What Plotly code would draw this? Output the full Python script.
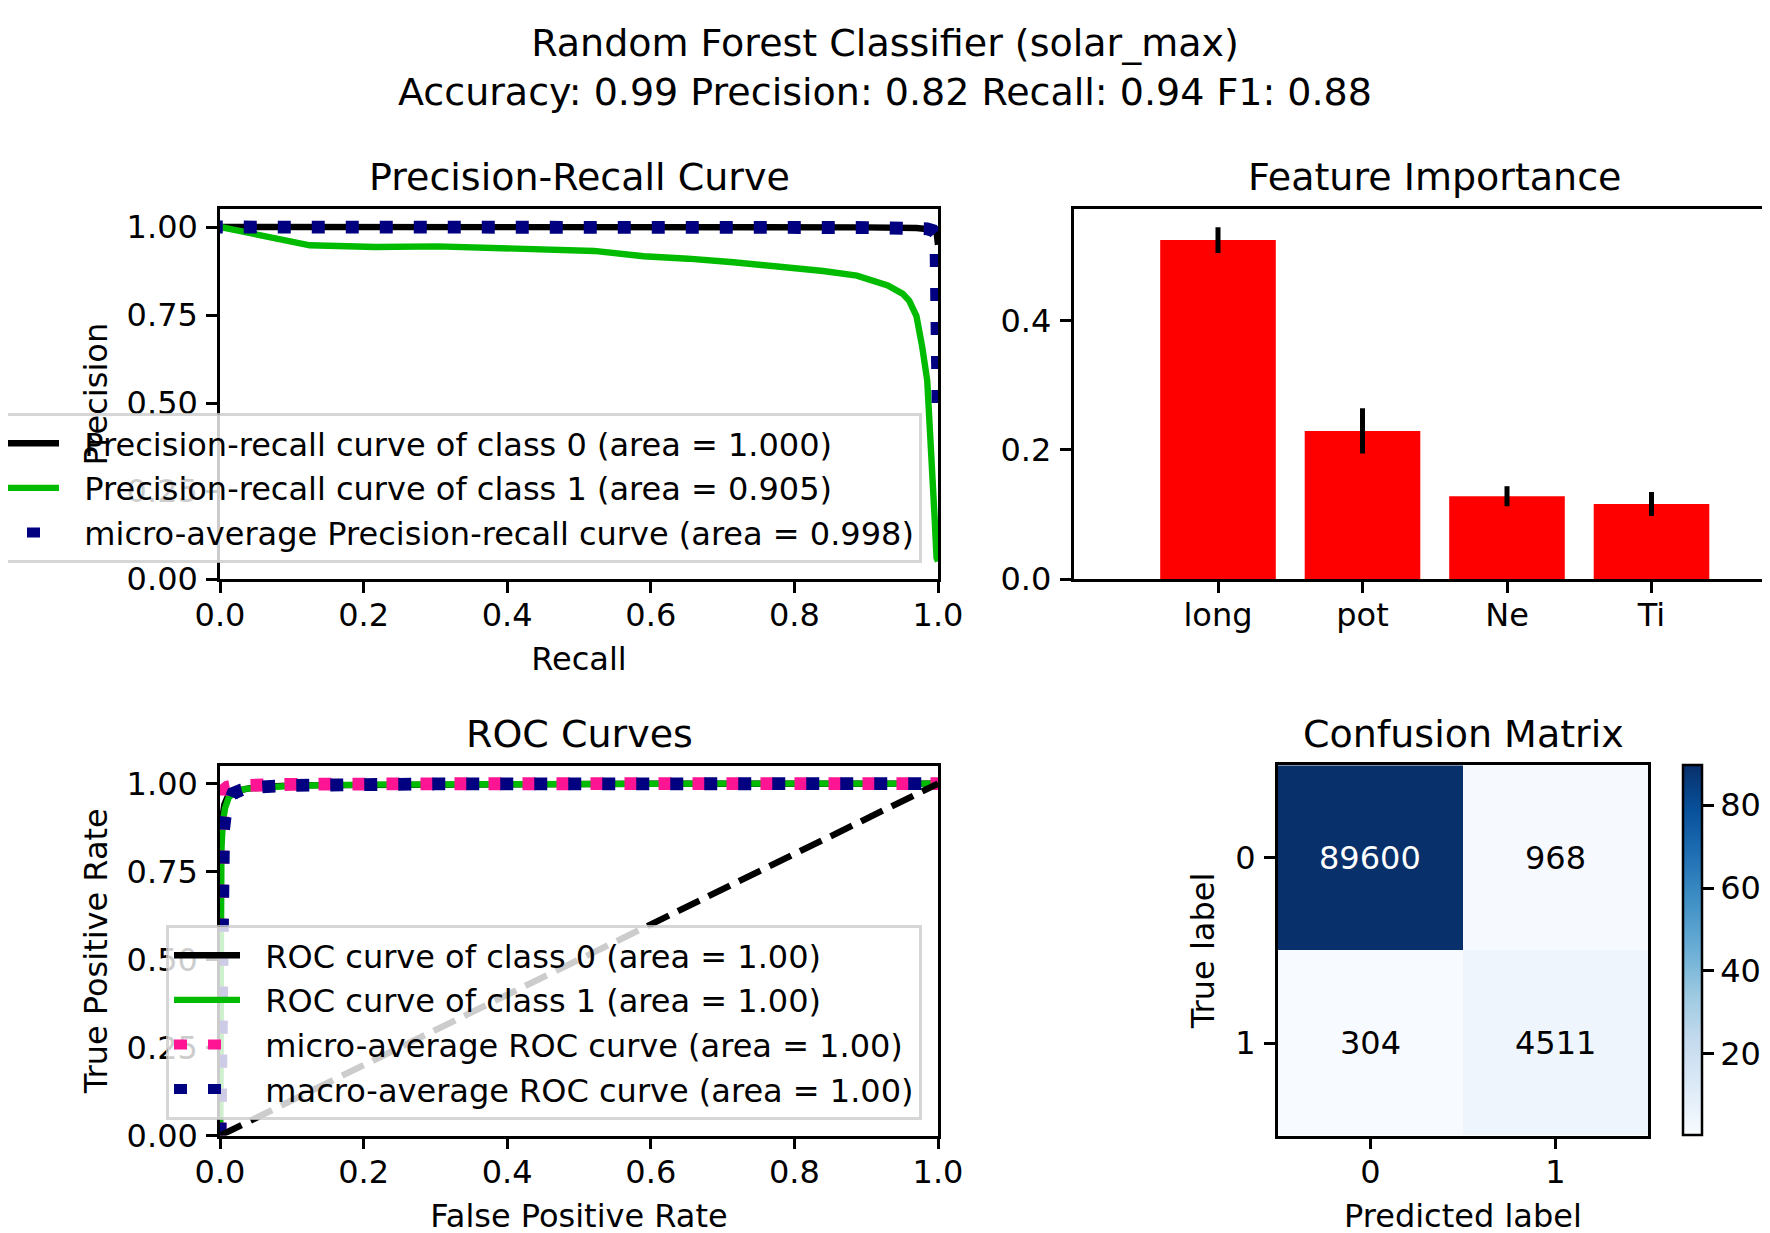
import plotly.graph_objects as go

FONT = "DejaVu Sans"
W, H = 1770, 1233
OFF = 8  # browser default body margin

# ---------------- data ----------------
title_line1 = "Random Forest Classifier (solar_max)"
title_line2 = "Accuracy: 0.99 Precision: 0.82 Recall: 0.94 F1: 0.88"

# Precision-recall curves (recall descending, as returned by sklearn)
pr0_recall = [1.0, 0.998, 0.99, 0.97, 0.9, 0.5, 0.0]
pr0_precision = [0.9495, 0.985, 0.993, 0.997, 0.999, 0.9999, 1.0]
pr0_label = "Precision-recall curve of class 0 (area = 1.000)"

pr1_recall = [1.0, 0.998, 0.995, 0.991, 0.985, 0.978, 0.970, 0.960, 0.951, 0.930, 0.904, 0.887,
              0.840, 0.780, 0.715, 0.652, 0.590, 0.521, 0.434, 0.303, 0.216, 0.125, 0.0]
pr1_precision = [0.0505, 0.06, 0.185, 0.374, 0.564, 0.66, 0.747, 0.79, 0.81, 0.834, 0.853, 0.862,
                 0.875, 0.888, 0.900, 0.910, 0.917, 0.932, 0.938, 0.945, 0.943, 0.948, 1.0]
pr1_label = "Precision-recall curve of class 1 (area = 0.905)"

prm_recall = [1.0, 1.0, 0.999, 0.997, 0.993, 0.985, 0.9, 0.5, 0.0]
prm_precision = [0.5, 0.8, 0.95, 0.98, 0.99, 0.995, 0.9985, 0.9995, 1.0]
prm_label = "micro-average Precision-recall curve (area = 0.998)"

# ROC curves
roc0_fpr = [0, 0.0003, 0.001, 0.003, 0.006, 0.01, 0.02, 0.03, 0.05, 0.1, 0.3, 0.6, 1.0]
roc0_tpr = [0, 0.6, 0.8, 0.9, 0.94, 0.96, 0.975, 0.982, 0.99, 0.995, 0.998, 0.9995, 1.0]
roc0_label = "ROC curve of class 0 (area = 1.00)"

roc1_fpr = [0, 0.0005, 0.001, 0.002, 0.004, 0.007, 0.012, 0.02, 0.035, 0.06, 0.1, 0.2, 0.4, 0.7, 1.0]
roc1_tpr = [0, 0.55, 0.72, 0.82, 0.89, 0.93, 0.96, 0.975, 0.985, 0.99, 0.994, 0.997, 0.999, 1.0, 1.0]
roc1_label = "ROC curve of class 1 (area = 1.00)"

rocmi_fpr = [0, 0.0005, 0.001, 0.002, 0.004, 0.007, 0.01, 0.02, 0.05, 0.1, 0.3, 1.0]
rocmi_tpr = [0, 0.9, 0.95, 0.97, 0.98, 0.985, 0.99, 0.994, 0.997, 0.998, 0.9995, 1.0]
rocmi_label = "micro-average ROC curve (area = 1.00)"

rocma_fpr = [0, 0.001, 0.002, 0.003, 0.005, 0.008, 0.012, 0.018, 0.03, 0.05, 0.1, 0.3, 1.0]
rocma_tpr = [0, 0.3, 0.6, 0.8, 0.87, 0.92, 0.95, 0.972, 0.982, 0.99, 0.995, 0.999, 1.0]
rocma_label = "macro-average ROC curve (area = 1.00)"

chance_x = [0, 1]
chance_y = [0, 1]

# Feature importance
features = ["long", "pot", "Ne", "Ti"]
importances = [0.524, 0.229, 0.128, 0.116]
importance_std = [0.020, 0.035, 0.0155, 0.0185]

# Confusion matrix
cm_labels = ["0", "1"]
cm_values = [[89600, 968], [304, 4511]]
cbar_ticks = [20000, 40000, 60000, 80000]

# ---------------- layout helpers (page pixel -> paper fraction) ----------------
def px_x(p):
    return (p - OFF) / W


def px_y(p):
    return 1 - (p - OFF) / H


BLACK = "black"
GREEN = "rgb(0,187,0)"
NAVY = "#000080"
PINK = "#FF1493"
LW = 6.4
DOT = "13px,21px"
GAP = "\u00a0\u00a0"  # gap between legend handle and label (matplotlib handletextpad)

fig = go.Figure()

# PR curves
fig.add_trace(go.Scatter(x=pr0_recall, y=pr0_precision, mode="lines", name=GAP + pr0_label,
                         line=dict(color=BLACK, width=LW), xaxis="x", yaxis="y", legend="legend"))
fig.add_trace(go.Scatter(x=pr1_recall, y=pr1_precision, mode="lines", name=GAP + pr1_label,
                         line=dict(color=GREEN, width=LW), xaxis="x", yaxis="y", legend="legend"))
fig.add_trace(go.Scatter(x=prm_recall, y=prm_precision, mode="lines", name=GAP + prm_label,
                         line=dict(color=NAVY, width=12.8, dash=DOT), xaxis="x", yaxis="y", legend="legend"))

# Feature importance
fig.add_trace(go.Bar(x=list(range(len(features))), y=importances, width=0.8,
                     marker=dict(color="#FF0000", line=dict(width=0)),
                     error_y=dict(type="data", array=importance_std, color="black", thickness=5, width=0),
                     xaxis="x2", yaxis="y2", showlegend=False))

# ROC curves
fig.add_trace(go.Scatter(x=roc0_fpr, y=roc0_tpr, mode="lines", name=GAP + roc0_label,
                         line=dict(color=BLACK, width=LW), xaxis="x3", yaxis="y3", legend="legend2"))
fig.add_trace(go.Scatter(x=roc1_fpr, y=roc1_tpr, mode="lines", name=GAP + roc1_label,
                         line=dict(color=GREEN, width=LW), xaxis="x3", yaxis="y3", legend="legend2"))
fig.add_trace(go.Scatter(x=rocmi_fpr, y=rocmi_tpr, mode="lines", name=GAP + rocmi_label,
                         line=dict(color=PINK, width=12.8, dash=DOT), xaxis="x3", yaxis="y3", legend="legend2"))
fig.add_trace(go.Scatter(x=rocma_fpr, y=rocma_tpr, mode="lines", name=GAP + rocma_label,
                         line=dict(color=NAVY, width=12.8, dash=DOT), xaxis="x3", yaxis="y3", legend="legend2"))
fig.add_trace(go.Scatter(x=chance_x, y=chance_y, mode="lines", showlegend=False,
                         line=dict(color=BLACK, width=LW, dash="24px,10px"), xaxis="x3", yaxis="y3"))

# Confusion matrix
blues = [[0.0, "#f7fbff"], [0.125, "#deebf7"], [0.25, "#c6dbef"], [0.375, "#9ecae1"],
         [0.5, "#6baed6"], [0.625, "#4292c6"], [0.75, "#2171b5"], [0.875, "#08519c"],
         [1.0, "#08306b"]]
zmin = min(min(r) for r in cm_values)
zmax = max(max(r) for r in cm_values)
fig.add_trace(go.Heatmap(z=cm_values, x=[0, 1], y=[0, 1], colorscale=blues, zmin=zmin, zmax=zmax,
                         xaxis="x4", yaxis="y4", hoverinfo="z",
                         colorbar=dict(x=px_x(1683), xanchor="left", xpad=0, ypad=0,
                                       y=px_y((765.3 + 1135.6) / 2), yanchor="middle",
                                       len=370, lenmode="pixels", thickness=19, thicknessmode="pixels",
                                       outlinewidth=2.5, outlinecolor="black",
                                       tickvals=cbar_ticks, ticks="outside", ticklen=11, tickwidth=2.5,
                                       tickcolor="black",
                                       tickfont=dict(family=FONT, size=32, color="black"))))

annotations = []
thresh = zmax / 2
for i, row in enumerate(cm_values):
    for j, v in enumerate(row):
        annotations.append(dict(x=j, y=i, xref="x4", yref="y4", text=str(v), showarrow=False,
                                font=dict(family=FONT, size=32, color="white" if v > thresh else "black")))


def sub_title(text, xc, yc):
    return dict(text=text, x=px_x(xc), y=px_y(yc), xref="paper", yref="paper", xanchor="center",
                yanchor="middle", showarrow=False, font=dict(family=FONT, size=38, color="black"))


annotations += [
    sub_title("Precision-Recall Curve", 579, 177),
    sub_title("Feature Importance", 1434, 177),
    sub_title("ROC Curves", 579, 734),
    sub_title("Confusion Matrix", 1463, 734),
]

tickfont = dict(family=FONT, size=32, color="black")
titlefont = dict(family=FONT, size=32, color="black")
base = dict(showline=True, linecolor="black", linewidth=2.5, mirror=True, ticks="outside",
            ticklen=11, tickwidth=2.5, tickcolor="black", tickfont=tickfont, showgrid=False,
            zeroline=False)
xbase = dict(base, ticklabelstandoff=-5)
ybase = dict(base, ticklabelstandoff=2)

legend_common = dict(xanchor="right", yanchor="bottom", bgcolor="rgba(255,255,255,0.8)",
                     bordercolor="rgba(204,204,204,0.8)", borderwidth=3,
                     font=dict(family=FONT, size=32, color="black"), itemwidth=66)

fig.update_layout(
    width=W, height=H,
    margin=dict(l=0, r=0, t=0, b=0, autoexpand=False),
    paper_bgcolor="white", plot_bgcolor="white",
    font=dict(family=FONT, color="black"),
    title=dict(text=title_line1 + "<br>" + title_line2, x=px_x(885), xanchor="center",
               y=px_y(56), yanchor="middle", yref="container",
               font=dict(family=FONT, size=38, color="black")),
    xaxis=dict(xbase, domain=[px_x(220), px_x(938)], range=[0, 1], tickvals=[0, 0.2, 0.4, 0.6, 0.8, 1.0],
               tickformat=".1f", anchor="y",
               title=dict(text="Recall", font=titlefont, standoff=15)),
    yaxis=dict(ybase, domain=[px_y(579), px_y(209.4)], range=[0, 1.05],
               tickvals=[0, 0.25, 0.5, 0.75, 1.0], tickformat=".2f", anchor="x",
               title=dict(text="Precision", font=titlefont, standoff=10)),
    xaxis2=dict(xbase, domain=[px_x(1073.5), 1.0], range=[-1, -1 + (W + OFF - 1073.5) / 144.5],
                tickvals=list(range(len(features))), ticktext=features, anchor="y2"),
    yaxis2=dict(ybase, mirror=False, domain=[px_y(579), px_y(209.4)], range=[0, 0.5715],
                tickvals=[0, 0.2, 0.4], tickformat=".1f", anchor="x2"),
    xaxis3=dict(xbase, domain=[px_x(220), px_x(938)], range=[0, 1], tickvals=[0, 0.2, 0.4, 0.6, 0.8, 1.0],
                tickformat=".1f", anchor="y3",
                title=dict(text="False Positive Rate", font=titlefont, standoff=15)),
    yaxis3=dict(ybase, domain=[px_y(1135.6), px_y(766)], range=[0, 1.05],
                tickvals=[0, 0.25, 0.5, 0.75, 1.0], tickformat=".2f", anchor="x3",
                title=dict(text="True Positive Rate", font=titlefont, standoff=10)),
    xaxis4=dict(xbase, domain=[px_x(1277.8), px_x(1648)], range=[-0.5, 1.5], tickvals=[0, 1],
                ticktext=cm_labels, anchor="y4",
                title=dict(text="Predicted label", font=titlefont, standoff=15)),
    yaxis4=dict(ybase, domain=[px_y(1135.6), px_y(765.3)], range=[1.5, -0.5], tickvals=[0, 1],
                ticktext=cm_labels, anchor="x4",
                title=dict(text="True label", font=titlefont, standoff=12)),
    legend=dict(legend_common, x=px_x(922), y=px_y(563)),
    legend2=dict(legend_common, x=px_x(922), y=px_y(1120)),
    annotations=annotations,
)

fig.write_html("out.html")
